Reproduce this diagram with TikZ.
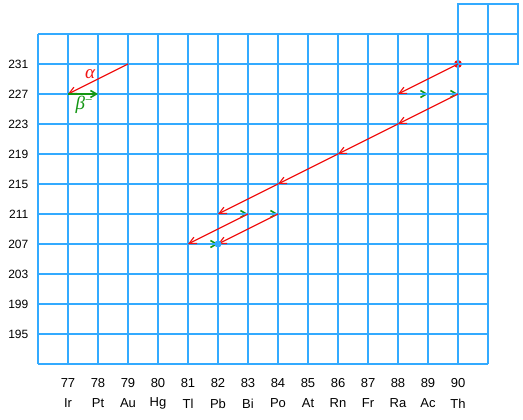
\documentclass[tikz,border=0pt]{standalone}
\usepackage{fontspec}
\setmainfont{Liberation Sans}
\newfontfamily\greekfont{Liberation Serif}
\usetikzlibrary{arrows.meta}
\definecolor{gridblue}{RGB}{51,170,255}
\definecolor{arrred}{RGB}{240,20,20}
\definecolor{arrgreen}{RGB}{20,150,20}
\begin{document}
\begin{tikzpicture}[x=1pt,y=-1pt,
  gridline/.style={draw=gridblue,line width=2pt},
  alphaarr/.style={draw=arrred,line width=1.2pt,-{Straight Barb[length=7pt,width=7pt]}},
  betaarr/.style={draw=arrgreen,line width=1.2pt,-{Straight Barb[length=6pt,width=7pt,line width=1.6pt]}},
  ylab/.style={anchor=east,font=\fontsize{12}{12}\selectfont,inner sep=0pt},
  xlab/.style={anchor=center,font=\fontsize{13}{13}\selectfont,inner sep=0pt}]
\useasboundingbox (0,0) rectangle (523,420);
% named points
\foreach \z in {77,...,90}{
  \foreach \a in {195,199,...,231}{
    \coordinate (p-\z-\a) at ({68+30*(\z-77)},{64+7.5*(231-\a)});
  }
}
% Th start dot (under grid)
\fill[arrred] (p-90-231) circle (4);
% beta lines of the chain lie under the grid
\draw[betaarr] (p-88-227) -- (p-89-227);
\draw[betaarr] (p-89-227) -- (p-90-227);
\draw[betaarr] (p-82-211) -- (p-83-211);
\draw[betaarr] (p-83-211) -- (p-84-211);
\draw[betaarr] (p-81-207) -- (p-82-207);
% grid
\foreach \i in {0,...,15}{
  \draw[gridline] ({38+30*\i},34) -- ({38+30*\i},364);
}
\foreach \j in {0,...,11}{
  \draw[gridline] (38,{34+30*\j}) -- (488,{34+30*\j});
}
\draw[gridline] (458,4) rectangle (518,64);
\draw[gridline] (488,4) -- (488,64);
\draw[gridline] (458,34) -- (518,34);
% y labels
\foreach \a [count=\k from 0] in {231,227,...,195}{
  \node[ylab] (ya\a) at (28.5,{64+30*\k}) {\a};
}
% x labels
\foreach \z/\s [count=\k from 0] in {77/Ir,78/Pt,79/Au,80/Hg,81/Tl,82/Pb,83/Bi,84/Po,85/At,86/Rn,87/Fr,88/Ra,89/Ac,90/Th}{
  \node[xlab] (xz\z) at ({68+30*\k},383.5) {\z};
  \node[xlab] (xs\z) at ({68+30*\k},403.5) {\s};
}
% legend
\draw[alphaarr] (p-79-231) -- (p-77-227);
\node[text=arrred,font=\greekfont\fontsize{19}{19}\selectfont\itshape,inner sep=0pt] (lalpha) at (90,74) {α};
\draw[betaarr] (p-77-227) -- (p-78-227);
\node[text=arrgreen,font=\greekfont\fontsize{19}{19}\selectfont\itshape,inner sep=0pt] (lbeta) at (84,105) {β\raisebox{5pt}{\fontsize{13}{13}\selectfont\upshape −}};
% decay chain
\draw[alphaarr] (p-90-231) -- (p-88-227);
\draw[alphaarr] (p-90-227) -- (p-88-223);
\draw[alphaarr] (p-88-223) -- (p-86-219);
\draw[alphaarr] (p-86-219) -- (p-84-215);
\draw[alphaarr] (p-84-215) -- (p-82-211);
\draw[alphaarr] (p-83-211) -- (p-81-207);
\draw[alphaarr] (p-84-211) -- (p-82-207);
\fill[gridblue] (p-82-207) circle (3.5);
\end{tikzpicture}
\end{document}
